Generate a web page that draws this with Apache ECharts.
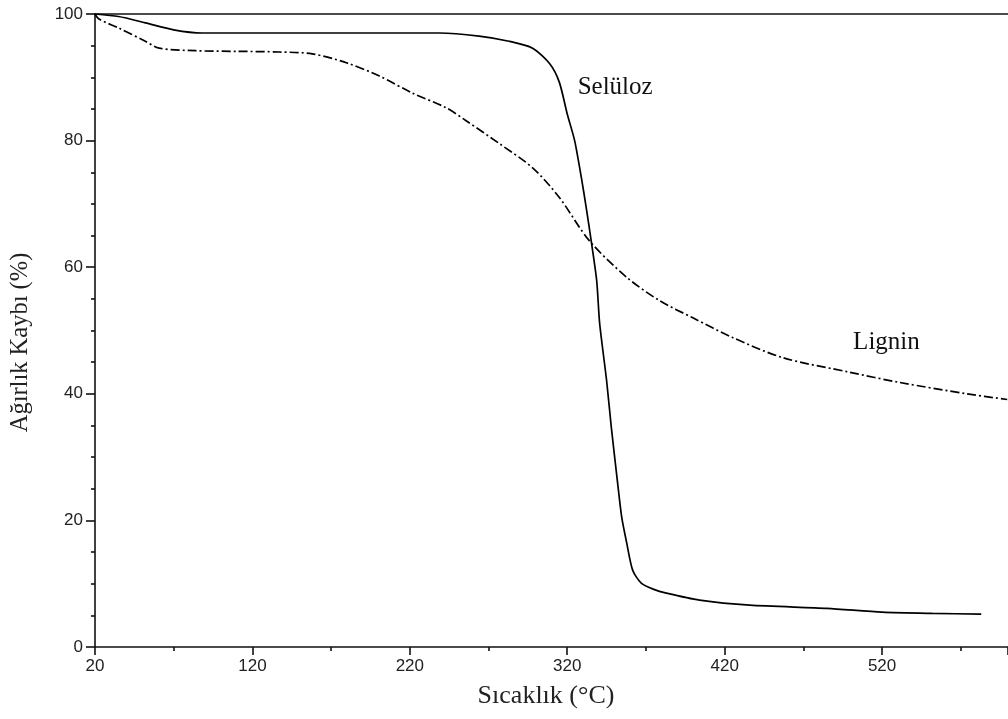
<!DOCTYPE html>
<html>
<head>
<meta charset="utf-8">
<script src="https://cdn.jsdelivr.net/npm/echarts@6/dist/echarts.min.js"></script>
<style>
  html, body { margin: 0; padding: 0; background: #fff; }
  #chart { width: 1008px; height: 719px; }
</style>
</head>
<body>
<div id="chart"></div>
<script>
// Thermogravimetric curves: weight remaining (%) vs temperature (°C)
const selulozT = [20, 35, 52, 70, 88, 150, 239, 264, 283, 298, 309, 315, 320, 324.7, 329, 332, 335.5, 338.7, 340.6, 345, 348, 352, 354.6, 357.8, 361.6, 367, 375, 383, 404, 436, 485, 520, 552, 583];
const selulozW = [100, 99.6, 98.6, 97.5, 97, 97, 97, 96.5, 95.7, 94.6, 92.1, 89.2, 84.2, 80, 74.1, 69.5, 63.7, 57.9, 51.1, 42.1, 34.7, 25.9, 20.5, 16.4, 12.1, 10.1, 9.1, 8.5, 7.4, 6.6, 6.1, 5.5, 5.3, 5.2];

const ligninT = [20, 22.5, 35, 52, 60.7, 84, 110, 137, 158, 179.7, 200.7, 221.7, 243, 256, 277, 298, 315, 334, 357.8, 378.8, 399.8, 425, 457, 499.6, 531, 574, 599.5];
const ligninW = [100, 99.2, 97.8, 95.7, 94.6, 94.2, 94.1, 94, 93.7, 92.3, 90.2, 87.5, 85.2, 83.1, 79.5, 75.7, 71, 64.2, 58.4, 54.7, 52, 48.9, 45.7, 43.4, 41.8, 40, 39.1];

// Curve labels placed in data space
const curveLabels = [
  { text: 'Selüloz', t: 326.6, w: 88.4 },
  { text: 'Lignin', t: 501.6, w: 48.1 }
];

const xTitle = 'Sıcaklık (°C)';
const yTitle = 'Ağırlık Kaybı (%)';

const zip = (a, b) => a.map((v, i) => [v, b[i]]);

const chart = echarts.init(document.getElementById('chart'), null, { renderer: 'canvas' });

const serif = '"Liberation Serif", "Times New Roman", serif';
const tickLabel = { color: '#222', fontFamily: '"Liberation Sans", Arial, sans-serif', fontSize: 17 };
const axisStroke = { color: '#111', width: 1.6 };

chart.setOption({
  animation: false,
  backgroundColor: '#fff',
  grid: { left: 95, right: 0, top: 14, bottom: 72, containLabel: false },
  xAxis: [{
    type: 'value', min: 20, max: 600, interval: 100,
    name: xTitle, nameLocation: 'middle', nameGap: 36,
    nameTextStyle: { color: '#222', fontFamily: serif, fontSize: 26, padding: [0, 11, 0, 0] },
    axisLine: { show: true, onZero: false, lineStyle: axisStroke },
    axisTick: { show: true, length: 8, lineStyle: axisStroke },
    minorTick: { show: true, splitNumber: 2, length: 4, lineStyle: axisStroke },
    axisLabel: Object.assign({ margin: 11, showMaxLabel: false }, tickLabel),
    splitLine: { show: false }
  }, {
    // top frame line
    type: 'value', position: 'top', min: 20, max: 600,
    axisLine: { show: true, onZero: false, lineStyle: axisStroke },
    axisTick: { show: false }, axisLabel: { show: false }, splitLine: { show: false }
  }],
  yAxis: {
    type: 'value', min: 0, max: 100, interval: 20,
    name: yTitle, nameLocation: 'middle', nameGap: 62, nameRotate: 90,
    nameTextStyle: { color: '#222', fontFamily: serif, fontSize: 24.5, padding: [0, 24, 0, 0] },
    axisLine: { show: true, onZero: false, lineStyle: axisStroke },
    axisTick: { show: true, length: 9, lineStyle: axisStroke },
    minorTick: { show: true, splitNumber: 4, length: 4, lineStyle: axisStroke },
    axisLabel: Object.assign({ margin: 12 }, tickLabel),
    splitLine: { show: false }
  },
  series: [{
    name: 'Selüloz', type: 'line', data: zip(selulozT, selulozW),
    showSymbol: false, smooth: 0.25,
    lineStyle: { color: '#000', width: 1.7, type: 'solid' }
  }, {
    name: 'Lignin', type: 'line', data: zip(ligninT, ligninW),
    showSymbol: false, smooth: 0.3,
    lineStyle: { color: '#000', width: 1.7, type: [9, 3, 2, 3] }
  }]
});

chart.setOption({
  graphic: curveLabels.map(l => {
    const p = chart.convertToPixel({ gridIndex: 0 }, [l.t, l.w]);
    return {
      type: 'text', x: p[0], y: p[1],
      style: { text: l.text, fill: '#111', font: '25px ' + serif, textVerticalAlign: 'middle' }
    };
  })
});
</script>
</body>
</html>
